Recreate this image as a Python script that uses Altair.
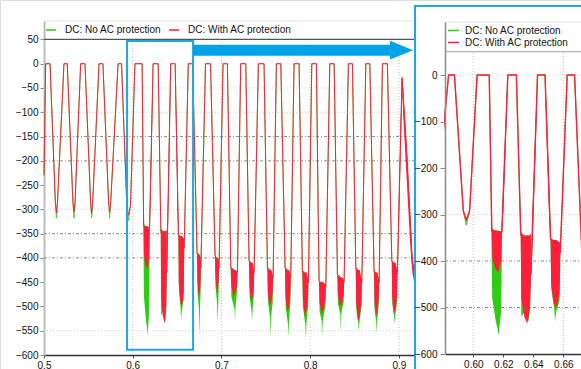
import altair as alt
import pandas as pd

FONT = "Liberation Sans"
SERIES = ["DC: No AC protection", "DC: With AC protection"]
SERIES_COLORS = ["#2ecc12", "#ff1f3c"]
SERIES_WIDTHS_MAIN = [0.8, 1.0]
SERIES_WIDTHS_ZOOM = [1.0, 1.4]
BOX_COLOR = "#1fa6e4"

# waveform key points: (time s, No-AC value, With-AC value)
LINE_POINTS = [
    (0.5000, -230, -230), (0.5019, 0, 0), (0.5068, 0, 0), (0.5128, -285, -285), (0.5140, -318, -308), (0.5152, -285, -285),
    (0.5225, 0, 0), (0.5262, 0, 0), (0.5326, -285, -285), (0.5338, -318, -306), (0.5350, -285, -285),
    (0.5413, 0, 0), (0.5462, 0, 0), (0.5525, -285, -285), (0.5537, -318, -308), (0.5549, -285, -285),
    (0.5620, 0, 0), (0.5664, 0, 0), (0.5728, -285, -285), (0.5740, -318, -306), (0.5752, -285, -285),
    (0.5835, 0, 0), (0.5874, 0, 0), (0.5933, -292, -292), (0.5953, -323, -312), (0.5975, -292, -292),
    (0.6025, 0, 0), (0.6106, 0, 0), (0.6123, -335, -335), (0.6190, -338, -338),
    (0.6230, 0, 0), (0.6287, 0, 0), (0.6316, -340, -340), (0.6384, -430, -430),
    (0.6428, 0, 0), (0.6478, 0, 0), (0.6515, -352, -352), (0.6580, -380, -380),
    (0.6626, 0, 0), (0.6675, 0, 0), (0.6725, -390, -390), (0.6768, -420, -420),
    (0.6820, 0, 0), (0.6877, 0, 0), (0.6928, -395, -395), (0.6973, -420, -420),
    (0.7018, 0, 0), (0.7067, 0, 0), (0.7105, -420, -420), (0.7180, -430, -430),
    (0.7217, 0, 0), (0.7274, 0, 0), (0.7311, -406, -406), (0.7368, -430, -430),
    (0.7416, 0, 0), (0.7480, 0, 0), (0.7518, -420, -420), (0.7582, -440, -440),
    (0.7619, 0, 0), (0.7669, 0, 0), (0.7717, -420, -420), (0.7781, -440, -440),
    (0.7818, 0, 0), (0.7875, 0, 0), (0.7912, -427, -427), (0.7980, -450, -450),
    (0.8018, 0, 0), (0.8070, 0, 0), (0.8100, -448, -448), (0.8176, -460, -460),
    (0.8221, 0, 0), (0.8270, 0, 0), (0.8307, -434, -434), (0.8382, -450, -450),
    (0.8431, 0, 0), (0.8476, 0, 0), (0.8514, -420, -420), (0.8582, -450, -450),
    (0.8627, 0, 0), (0.8672, 0, 0), (0.8720, -427, -427), (0.8777, -450, -450),
    (0.8814, 0, 0), (0.8870, 0, 0), (0.8920, -406, -406), (0.8983, -430, -430),
    (0.9035, -29, -29), (0.9090, -200, -200), (0.9152, -413, -413), (0.9185, -450, -450),
]

# noise envelopes: (burst id, time, upper, lower)
GREEN_BANDS = [
    (5, .6120, -330, -335), (5, .6126, -330, -480), (5, .6150, -335, -530), (5, .6161, -335, -545), (5, .6167, -335, -560), (5, .6173, -338, -545), (5, .6185, -340, -510), (5, .6192, -340, -345),
    (6, .6316, -340, -345), (6, .6320, -340, -520), (6, .6340, -345, -510), (6, .6358, -345, -525), (6, .6368, -345, -530), (6, .6378, -345, -500), (6, .6384, -340, -440),
    (7, .6515, -352, -355), (7, .6520, -352, -460), (7, .6540, -355, -505), (7, .6545, -355, -530), (7, .6552, -355, -510), (7, .6575, -360, -485), (7, .6580, -360, -390),
    (8, .6725, -390, -395), (8, .6730, -390, -470), (8, .6746, -392, -505), (8, .6752, -395, -563), (8, .6758, -395, -505), (8, .6765, -400, -470), (8, .6768, -405, -420),
    (9, .6928, -395, -400), (9, .6933, -395, -460), (9, .6952, -400, -495), (9, .6958, -400, -535), (9, .6964, -400, -495), (9, .6970, -405, -460), (9, .6973, -410, -420),
    (10, .7105, -420, -425), (10, .7112, -420, -480), (10, .7147, -425, -505), (10, .7153, -425, -530), (10, .7159, -425, -500), (10, .7176, -430, -470), (10, .7180, -430, -435),
    (11, .7311, -406, -410), (11, .7317, -406, -480), (11, .7339, -410, -510), (11, .7345, -410, -530), (11, .7351, -410, -505), (11, .7364, -425, -480), (11, .7368, -430, -435),
    (12, .7518, -420, -425), (12, .7524, -420, -490), (12, .7549, -425, -525), (12, .7555, -425, -565), (12, .7561, -425, -520), (12, .7578, -435, -490), (12, .7582, -440, -445),
    (13, .7717, -420, -425), (13, .7723, -420, -500), (13, .7749, -425, -535), (13, .7755, -425, -565), (13, .7761, -425, -530), (13, .7777, -435, -495), (13, .7781, -440, -445),
    (14, .7912, -427, -430), (14, .7918, -427, -500), (14, .7946, -430, -540), (14, .7952, -430, -570), (14, .7958, -430, -535), (14, .7976, -445, -500), (14, .7980, -450, -455),
    (15, .8100, -448, -452), (15, .8106, -448, -510), (15, .8129, -450, -530), (15, .8135, -450, -561), (15, .8141, -450, -530), (15, .8172, -455, -500), (15, .8176, -460, -465),
    (16, .8307, -434, -438), (16, .8313, -434, -495), (16, .8339, -440, -515), (16, .8345, -440, -550), (16, .8351, -440, -515), (16, .8378, -445, -490), (16, .8382, -450, -455),
    (17, .8514, -420, -425), (17, .8519, -420, -505), (17, .8542, -425, -535), (17, .8548, -425, -550), (17, .8554, -425, -535), (17, .8578, -445, -500), (17, .8582, -450, -455),
    (18, .8720, -427, -430), (18, .8725, -427, -505), (18, .8744, -430, -530), (18, .8750, -430, -555), (18, .8756, -430, -530), (18, .8773, -445, -495), (18, .8777, -450, -455),
    (19, .8920, -406, -410), (19, .8925, -406, -495), (19, .8946, -410, -520), (19, .8952, -410, -537), (19, .8958, -410, -520), (19, .8979, -425, -490), (19, .8983, -430, -435),
]
RED_BANDS = [
    (5, .6123, -335, -340), (5, .6127, -335, -395), (5, .6145, -335, -415), (5, .6165, -335, -425), (5, .6185, -338, -400), (5, .6190, -338, -345),
    (105, .6188, -340, -350), (105, .6200, -240, -295), (105, .6215, -110, -160), (105, .6228, -5, -15),
    (6, .6316, -340, -345), (6, .6320, -340, -480), (6, .6340, -345, -520), (6, .6360, -345, -535), (6, .6378, -345, -500), (6, .6384, -340, -440),
    (106, .6384, -420, -440), (106, .6395, -300, -360), (106, .6410, -150, -210), (106, .6422, -45, -85),
    (107, .6482, -20, -50), (107, .6490, -95, -150), (107, .6505, -230, -300), (107, .6515, -340, -360),
    (7, .6515, -352, -355), (7, .6519, -352, -450), (7, .6535, -355, -490), (7, .6555, -355, -500), (7, .6575, -360, -470), (7, .6580, -360, -390),
    (8, .6725, -390, -395), (8, .6729, -390, -445), (8, .6743, -392, -480), (8, .6758, -395, -470), (8, .6765, -400, -450), (8, .6768, -405, -420),
    (9, .6928, -395, -400), (9, .6932, -395, -440), (9, .6946, -400, -470), (9, .6960, -400, -460), (9, .6970, -405, -445), (9, .6973, -410, -420),
    (10, .7105, -420, -425), (10, .7110, -420, -455), (10, .7135, -425, -480), (10, .7160, -425, -470), (10, .7176, -430, -455), (10, .7180, -430, -435),
    (11, .7311, -406, -410), (11, .7316, -406, -460), (11, .7335, -410, -490), (11, .7352, -410, -480), (11, .7364, -425, -465), (11, .7368, -430, -435),
    (12, .7518, -420, -425), (12, .7523, -420, -470), (12, .7543, -425, -500), (12, .7562, -425, -490), (12, .7578, -435, -470), (12, .7582, -440, -445),
    (13, .7717, -420, -425), (13, .7722, -420, -480), (13, .7742, -425, -510), (13, .7762, -425, -500), (13, .7777, -435, -475), (13, .7781, -440, -445),
    (14, .7912, -427, -430), (14, .7917, -427, -480), (14, .7938, -430, -520), (14, .7960, -430, -505), (14, .7976, -445, -480), (14, .7980, -450, -455),
    (15, .8100, -448, -452), (15, .8105, -448, -490), (15, .8128, -450, -515), (15, .8152, -450, -505), (15, .8172, -455, -485), (15, .8176, -460, -465),
    (16, .8307, -434, -438), (16, .8312, -434, -475), (16, .8334, -440, -500), (16, .8357, -440, -495), (16, .8378, -445, -475), (16, .8382, -450, -455),
    (17, .8514, -420, -425), (17, .8518, -420, -490), (17, .8538, -425, -530), (17, .8558, -425, -520), (17, .8578, -445, -490), (17, .8582, -450, -455),
    (18, .8720, -427, -430), (18, .8724, -427, -490), (18, .8740, -430, -520), (18, .8758, -430, -510), (18, .8773, -445, -485), (18, .8777, -450, -455),
    (19, .8920, -406, -410), (19, .8924, -406, -480), (19, .8943, -410, -515), (19, .8963, -410, -505), (19, .8979, -425, -480), (19, .8983, -430, -435),
    (20, .8983, -425, -435), (20, .9000, -280, -330), (20, .9020, -120, -175), (20, .9035, -22, -50), (20, .9050, -55, -110),
    (20, .9070, -110, -180), (20, .9100, -200, -280), (20, .9130, -310, -380), (20, .9152, -395, -430), (20, .9185, -435, -465),
]

MAIN_X_TICKS = [0.5, 0.6, 0.7, 0.8, 0.9]
MAIN_Y_TICKS = [50, 0, -50, -100, -150, -200, -250, -300, -350, -400, -450, -500, -550, -600]
ZOOM_X_TICKS = [0.60, 0.62, 0.64, 0.66]
ZOOM_Y_TICKS = [0, -100, -200, -300, -400, -500, -600]
MAIN_GRID_FAINT = [-50, -100, -300, -550]
MAIN_GRID_DARK = [-150, -200, -350, -400]
MAIN_GRID_X = [0.6, 0.7, 0.8, 0.9]
ZOOM_GRID_FAINT = [0, -300]
ZOOM_GRID_DARK = [-400, -500]
ZOOM_GRID_X = [0.60, 0.66]

MAIN_T_RANGE = [0.5, 0.917]
MAIN_V_RANGE = [-600, 88]
ZOOM_T_RANGE = [0.5811, 0.6718]
ZOOM_V_RANGE = [-600, 114]
ZOOM_BOX = {"t0": 0.5936, "t1": 0.668, "v0": -589, "v1": 47}
ARROW = {"t0": 0.668, "t1": 0.8905, "head": 0.903, "v": 28}

line_rows = []
for t, g, r in LINE_POINTS:
    line_rows.append({"t": t, "v": g, "s": SERIES[0]})
    line_rows.append({"t": t, "v": r, "s": SERIES[1]})
line_df = pd.DataFrame(line_rows)
gb_df = pd.DataFrame(GREEN_BANDS, columns=["id", "t", "hi", "lo"])
rb_df = pd.DataFrame(RED_BANDS, columns=["id", "t", "hi", "lo"])
one = pd.DataFrame([{"k": 0}])

color_scale = alt.Scale(domain=SERIES, range=SERIES_COLORS)

axis_common = dict(title=None, grid=False, labelFont=FONT, labelFontSize=10, labelColor="#111",
                   labelFlush=False, labelOverlap=False)

MXS = alt.Scale(domain=MAIN_T_RANGE, range=[44, 414], nice=False, zero=False)
MYS = alt.Scale(domain=MAIN_V_RANGE, range=[355, 21], nice=False, zero=False)
ZXS = alt.Scale(domain=ZOOM_T_RANGE, range=[445, 581], nice=False, zero=False)
ZYS = alt.Scale(domain=ZOOM_V_RANGE, range=[354, 22], nice=False, zero=False)

MXA = alt.Axis(orient="bottom", values=MAIN_X_TICKS, format=".1f", offset=-14, tickSize=3, labelPadding=2,
               domainColor="#333", domainWidth=1.5, tickColor="#555", **axis_common)
MYA = alt.Axis(orient="left", values=MAIN_Y_TICKS, offset=-44, tickSize=4, labelPadding=2,
               domainColor="#bdbdbd", domainWidth=2, tickColor="#888", **axis_common)
ZXA = alt.Axis(orient="bottom", values=ZOOM_X_TICKS, format=".2f", offset=-15, tickSize=3, labelPadding=2,
               domainColor="#333", domainWidth=1.5, tickColor="#555", zindex=1, **axis_common)
ZYA = alt.Axis(orient="left", values=ZOOM_Y_TICKS, offset=-445, tickSize=5, labelPadding=3,
               domainColor="#8a8a8a", domainWidth=1.5, tickColor="#888", zindex=1, **axis_common)


def panel(xs, ys, xa, ya, legend, widths, tmin, tmax, grid_faint, grid_dark, grid_x, top_v, sep_color):
    X = lambda f: alt.X(f, type="quantitative", scale=xs, axis=xa)
    Y = lambda f: alt.Y(f, type="quantitative", scale=ys, axis=ya)
    keep = (alt.datum.t >= tmin - 0.01) & (alt.datum.t <= tmax + 0.01)
    hf = pd.DataFrame({"v": grid_faint, "t0": tmin, "t1": tmax})
    hd = pd.DataFrame({"v": grid_dark, "t0": tmin, "t1": tmax})
    vg = pd.DataFrame({"t": grid_x, "v0": -600, "v1": 50})
    color = alt.Color("s:N", scale=color_scale, legend=legend, sort=SERIES)
    layers = [
        alt.Chart(hf).mark_rule(color="#cfcfcf", strokeDash=[1, 2], strokeWidth=1).encode(
            x=X("t0"), x2="t1", y=Y("v")),
        alt.Chart(hd).mark_rule(color="#8c8c8c", strokeDash=[3, 2, 1, 2], strokeWidth=1).encode(
            x=X("t0"), x2="t1", y=Y("v")),
        alt.Chart(vg).mark_rule(color="#c4c4c4", strokeDash=[1, 2], strokeWidth=1).encode(
            x=X("t"), y=Y("v0"), y2="v1"),
        alt.Chart(pd.DataFrame({"v": [top_v], "t0": tmin, "t1": tmax})).mark_rule(
            color="#e2e2e2", strokeWidth=1).encode(x=X("t0"), x2="t1", y=Y("v")),
        alt.Chart(gb_df).transform_filter(keep).mark_area(color=SERIES_COLORS[0], opacity=1).encode(
            x=X("t"), y=Y("hi"), y2="lo", detail="id:N"),
        alt.Chart(line_df).transform_filter(keep).transform_filter(alt.datum.s == SERIES[0]).mark_line(
            strokeWidth=widths[0]).encode(x=X("t"), y=Y("v"), color=color),
        alt.Chart(line_df).transform_filter(keep).transform_filter(alt.datum.s == SERIES[1]).mark_line(
            strokeWidth=widths[1]).encode(x=X("t"), y=Y("v"), color=color),
        alt.Chart(rb_df).transform_filter(keep).mark_area(color=SERIES_COLORS[1], opacity=1).encode(
            x=X("t"), y=Y("hi"), y2="lo", detail="id:N"),
        alt.Chart(pd.DataFrame({"v": [50], "t0": tmin, "t1": tmax})).mark_rule(
            color=sep_color, strokeWidth=1.2).encode(x=X("t0"), x2="t1", y=Y("v")),
    ]
    return layers, X, Y


main_legend = alt.Legend(orient="none", legendX=45, legendY=24, direction="horizontal", title=None,
                         symbolType="stroke", symbolSize=100, symbolStrokeWidth=1.5,
                         labelFont=FONT, labelFontSize=10, labelColor="#111", labelOffset=8,
                         columnPadding=4, padding=0)
zoom_legend = alt.Legend(orient="none", legendX=447, legendY=24, direction="vertical", title=None,
                         symbolType="stroke", symbolSize=121, symbolStrokeWidth=1.5,
                         labelFont=FONT, labelFontSize=10, labelColor="#111", labelOffset=5,
                         rowPadding=0, padding=0, zindex=1)

m_layers, MX, MY = panel(MXS, MYS, MXA, MYA, main_legend, SERIES_WIDTHS_MAIN, MAIN_T_RANGE[0], MAIN_T_RANGE[1],
                         MAIN_GRID_FAINT, MAIN_GRID_DARK, MAIN_GRID_X, MAIN_V_RANGE[1], "#555")
box_df = pd.DataFrame([ZOOM_BOX])
arrow_df = pd.DataFrame([ARROW])
m_layers += [
    alt.Chart(box_df).mark_rect(fillOpacity=0, stroke=BOX_COLOR, strokeWidth=2).encode(
        x=MX("t0"), x2="t1", y=MY("v0"), y2="v1"),
    alt.Chart(arrow_df).mark_rule(color="#00a2e8", strokeWidth=11, strokeCap="butt").encode(
        x=MX("t0"), x2="t1", y=MY("v")),
    alt.Chart(arrow_df).mark_point(shape="M -1 -0.82 L 1 0 L -1 0.82 Z", size=529, filled=True,
                                   color="#00a2e8", opacity=1).encode(x=MX("head"), y=MY("v")),
]
main = alt.layer(*m_layers)

z_layers, ZX, ZY = panel(ZXS, ZYS, ZXA, ZYA, zoom_legend, SERIES_WIDTHS_ZOOM, ZOOM_T_RANGE[0], ZOOM_T_RANGE[1],
                         ZOOM_GRID_FAINT, ZOOM_GRID_DARK, ZOOM_GRID_X, ZOOM_V_RANGE[1], "#a0a0a0")
bg = alt.Chart(one).mark_rect(color="white").encode(
    x=alt.value(415), x2=alt.value(581), y=alt.value(6), y2=alt.value(369))
mask = alt.Chart(one).mark_rect(color="white").encode(
    x=alt.value(417), x2=alt.value(444), y=alt.value(8), y2=alt.value(369))
cyan_v = alt.Chart(one).mark_rule(color=BOX_COLOR, strokeWidth=2).encode(
    x=alt.value(415), y=alt.value(5), y2=alt.value(369))
cyan_h = alt.Chart(one).mark_rule(color=BOX_COLOR, strokeWidth=2).encode(
    x=alt.value(414), x2=alt.value(581), y=alt.value(6))
zoom = alt.layer(bg, *z_layers, mask, cyan_v, cyan_h)

chart = alt.layer(main, zoom).resolve_scale(
    x="independent", y="independent", color="independent"
).properties(
    width=581, height=369, autosize=alt.AutoSizeParams(type="none"),
    padding={"left": 0, "top": 0, "right": 0, "bottom": 0}
).configure_view(strokeWidth=0).configure(background="white")

chart.save("out.html", embed_options={"renderer": "svg", "actions": False})
